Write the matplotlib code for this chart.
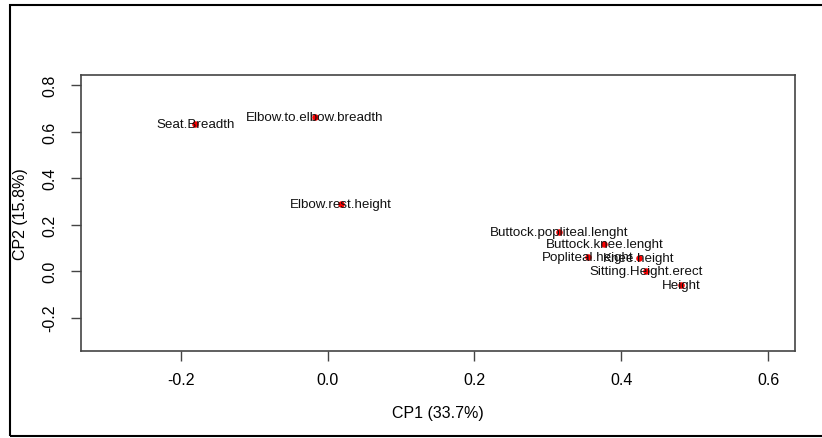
import matplotlib
matplotlib.use("Agg")
import matplotlib.pyplot as plt
from matplotlib.patches import Rectangle

# loadings
labels = ["Seat.Breadth", "Elbow.to.elbow.breadth", "Elbow.rest.height",
          "Buttock.popliteal.lenght", "Buttock.knee.lenght", "Popliteal.height",
          "Knee.height", "Sitting.Height.erect", "Height"]
cp1 = [-0.180, -0.017, 0.018, 0.315, 0.377, 0.354, 0.424, 0.434, 0.481]
cp2 = [0.632, 0.665, 0.290, 0.167, 0.116, 0.060, 0.056, 0.000, -0.059]

xticks = [-0.2, 0.0, 0.2, 0.4, 0.6]
yticks = [-0.2, 0.0, 0.2, 0.4, 0.6, 0.8]

plt.rcParams['font.family'] = ['Liberation Sans', 'DejaVu Sans']

W, H = 822, 439
fig = plt.figure(figsize=(W / 100, H / 100), dpi=100)
ax = fig.add_axes([80.7 / W, 1 - 352 / H, (794.7 - 80.7) / W, (352 - 76) / H])

ax.scatter(cp1, cp2, s=22, color="red", zorder=3, linewidths=0)
for lab, x, y in zip(labels, cp1, cp2):
    ax.text(x, y, lab, ha="center", va="center", fontsize=9.6, color="#111111")

# R style 4% expanded limits of (-0.3, 0.6) and (-0.3, 0.8)
ax.set_xlim(-0.336, 0.636)
ax.set_ylim(-0.344, 0.844)
ax.set_xticks(xticks)
ax.set_xticklabels(["%.1f" % v for v in xticks])
ax.set_yticks(yticks)
ax.set_yticklabels(["%.1f" % v for v in yticks], rotation=90, va="center")
ax.tick_params(direction="out", length=7, width=1, color="#444444",
               labelsize=11.5, pad=8)
ax.tick_params(axis="y", pad=10)
for s in ax.spines.values():
    s.set_color("#444444")
    s.set_linewidth(1.2)

ax.set_xlabel("CP1 (33.7%)", fontsize=11.5, labelpad=13)
ax.set_ylabel("CP2 (15.8%)", fontsize=11.5, labelpad=10)

# outer frame around the whole picture
fig.patches.append(Rectangle((10 / W, 1 - 437 / H), (W - 10) / W + 0.01, (437 - 6) / H,
                             transform=fig.transFigure, fill=False,
                             edgecolor="black", linewidth=1.5))

fig.savefig("out.png", dpi=100)
